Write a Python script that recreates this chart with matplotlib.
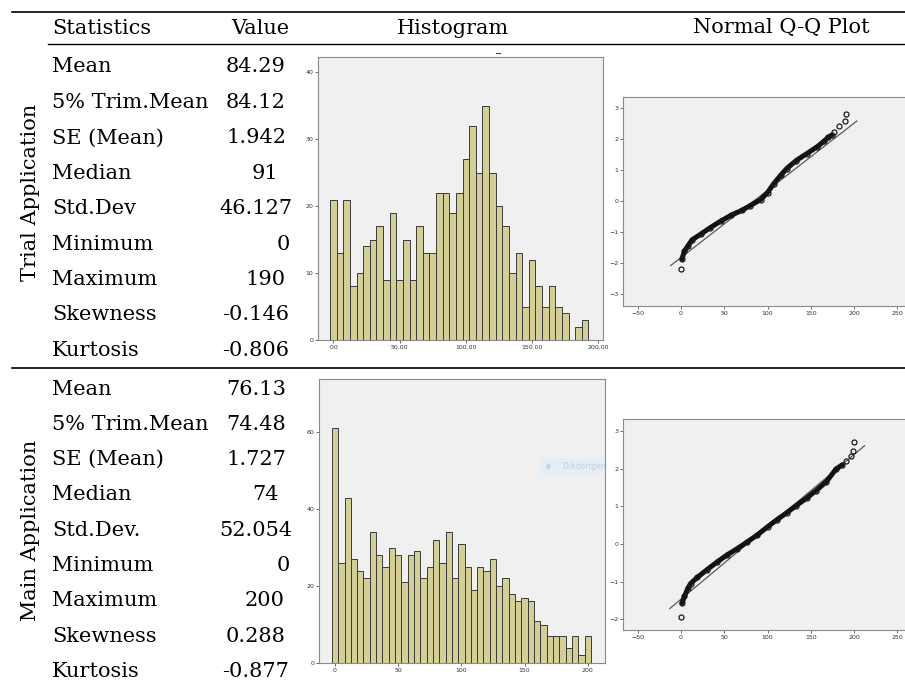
import matplotlib
matplotlib.use("Agg")
import matplotlib.pyplot as plt
from matplotlib.lines import Line2D
from matplotlib.patches import Rectangle
import numpy as np

W, H = 905, 686

stat_names = ["Mean", "5% Trim.Mean", "SE (Mean)", "Median", "Std.Dev",
	"Minimum", "Maximum", "Skewness", "Kurtosis"]
main_names = stat_names[:4] + ["Std.Dev."] + stat_names[5:]
trial_values = ["84.29", "84.12", "1.942", "91", "46.127", "0", "190", "-0.146", "-0.806"]
main_values = ["76.13", "74.48", "1.727", "74", "52.054", "0", "200", "0.288", "-0.877"]
trial_mean, trial_sd = 84.29, 46.127
main_mean, main_sd = 76.13, 52.054

# histogram counts, bins of width 5 centred on 0, 5, 10, ...
bin_width = 5
trial_counts = [21, 13, 21, 8, 10, 14, 15, 17, 9, 19, 9, 15, 9, 17, 13, 13, 22, 22, 19, 22,
	27, 32, 25, 35, 25, 20, 17, 10, 13, 5, 12, 8, 5, 8, 5, 4, 0, 2, 3]
main_counts = [61, 26, 43, 27, 24, 22, 34, 28, 25, 30, 28, 21, 28, 29, 22, 25, 32, 26, 34, 22,
	31, 25, 19, 25, 24, 27, 20, 22, 18, 16, 17, 16, 11, 10, 7, 7, 7, 4, 7, 2, 7]
trial_bins = np.arange(len(trial_counts)) * bin_width
main_bins = np.arange(len(main_counts)) * bin_width

qq_trial_x = [0, 1, 4, 8, 13, 23, 34, 46, 58, 70, 80, 92, 100, 107, 115, 122, 133, 145, 157,
	165, 170, 174, 177, 182, 189, 190]
qq_trial_y = [-2.20, -1.88, -1.62, -1.45, -1.25, -1.07, -0.86, -0.65, -0.46, -0.31, -0.15, 0.04,
	0.27, 0.55, 0.82, 1.04, 1.30, 1.52, 1.74, 1.92, 2.05, 2.12, 2.22, 2.42, 2.56, 2.80]
qq_main_x = [0, 1, 4, 8, 11, 19, 30, 42, 53, 65, 76, 88, 100, 111, 122, 133, 145, 156, 168,
	179, 186, 191, 196, 199, 200]
qq_main_y = [-1.94, -1.57, -1.39, -1.17, -1.05, -0.88, -0.68, -0.47, -0.29, -0.12, 0.05, 0.24,
	0.46, 0.65, 0.83, 1.02, 1.22, 1.42, 1.66, 1.99, 2.10, 2.20, 2.33, 2.46, 2.72]
qq_trial_line_x = [-12, 203]
qq_main_line_x = [-13, 212]

fig = plt.figure(figsize=(W / 100, H / 100), dpi=100)
serif = "DejaVu Serif"


def fx(x):
	return x / W


def fy(y):
	return 1 - y / H


def hline(y, x0, x1, lw):
	fig.add_artist(Line2D([fx(x0), fx(x1)], [fy(y), fy(y)], color="black", lw=lw))


def px_axes(l, t, r, b):
	return fig.add_axes([fx(l), fy(b), fx(r - l), (b - t) / H])


def spss_style(ax):
	ax.set_facecolor("#f0f0f0")
	for s in ax.spines.values():
		s.set_color("#8a8a8a")
		s.set_linewidth(0.8)
	ax.tick_params(direction="out", length=2.5, width=0.6, color="#555555",
		labelsize=4.5, labelcolor="#333333", pad=1)


# table rules and text
hline(12, 12, W, 1.2)
hline(44, 48, W, 1.0)
hline(368, 12, W, 1.2)

fig.text(fx(52), fy(28), "Statistics", family=serif, fontsize=15, va="center", ha="left")
fig.text(fx(260), fy(28), "Value", family=serif, fontsize=15, va="center", ha="center")
fig.text(fx(453), fy(28), "Histogram", family=serif, fontsize=15, va="center", ha="center")
fig.text(fx(781), fy(28), "Normal Q-Q Plot", family=serif, fontsize=15, va="center", ha="center")


def value_text(y, v):
	if v == "0":
		fig.text(fx(290), fy(y), v, family=serif, fontsize=15, va="center", ha="right")
	elif "." in v:
		fig.text(fx(256), fy(y), v, family=serif, fontsize=15, va="center", ha="center")
	else:
		fig.text(fx(265), fy(y), v, family=serif, fontsize=15, va="center", ha="center")


for i, (n, v) in enumerate(zip(stat_names, trial_values)):
	y = 67 + 35.4 * i
	fig.text(fx(52), fy(y), n, family=serif, fontsize=15, va="center", ha="left")
	value_text(y, v)

for i, (n, v) in enumerate(zip(main_names, main_values)):
	y = 389 + 35.3 * i
	fig.text(fx(52), fy(y), n, family=serif, fontsize=15, va="center", ha="left")
	value_text(y, v)

fig.text(fx(30), fy(192), "Trial Application", family=serif, fontsize=15,
	rotation=90, va="center", ha="center")
fig.text(fx(30), fy(530), "Main Application", family=serif, fontsize=15,
	rotation=90, va="center", ha="center")

# histograms
bar_face = "#d4cf97"
bar_edge = "#3a3a3a"

ax = px_axes(318, 57, 603, 340)
spss_style(ax)
ax.bar(trial_bins, trial_counts, width=bin_width, color=bar_face, edgecolor=bar_edge, linewidth=0.7)
ax.set_xlim(-11.6, 203.5)
ax.set_ylim(0, 42.3)
ax.set_xticks([0, 50, 100, 150, 200])
ax.set_xticklabels([".00", "50.00", "100.00", "150.00", "200.00"])
ax.set_yticks([0, 10, 20, 30, 40])
fig.add_artist(Line2D([fx(496), fx(500)], [fy(53), fy(53)], color="#444444", lw=0.8))

ax = px_axes(319, 379, 605, 663)
spss_style(ax)
ax.bar(main_bins, main_counts, width=bin_width, color=bar_face, edgecolor=bar_edge, linewidth=0.7)
ax.set_xlim(-12.7, 213.7)
ax.set_ylim(0, 73.8)
ax.set_xticks([0, 50, 100, 150, 200])
ax.set_yticks([0, 20, 40, 60])
# faint tooltip left over in the screenshot
ax.add_patch(Rectangle((0.773, 0.665), 0.25, 0.057, transform=ax.transAxes,
	facecolor="#e4eef9", edgecolor="none", clip_on=True, zorder=5))
ax.plot([0.80], [0.693], "o", transform=ax.transAxes, color="#c5d3e4", ms=2.5, zorder=6)
ax.text(0.853, 0.693, "Dikdörtgen S", transform=ax.transAxes, fontsize=5.5,
	color="#c3cedb", va="center", ha="left", clip_on=True, zorder=6)


def qq_plot(rect, xs, ys, line_x, mean, sd, ylim, yticks, join):
	ax = px_axes(*rect)
	spss_style(ax)
	ax.spines["right"].set_visible(False)
	lx = np.array(line_x, dtype=float)
	ax.plot(lx, (lx - mean) / sd, color="#5a5a5a", lw=0.9, zorder=2)
	ax.plot(xs[join[0]:join[1]], ys[join[0]:join[1]], color="#111111", lw=3.6,
		solid_capstyle="round", solid_joinstyle="round", zorder=3)
	ax.plot(xs, ys, "o", mfc="none", mec="#1a1a1a", ms=3.6, mew=0.9, zorder=4)
	ax.set_xlim(-67, 258.7)
	ax.set_ylim(*ylim)
	ax.set_xticks([-50, 0, 50, 100, 150, 200, 250])
	ax.set_yticks(yticks)


qq_plot((623, 97, 905, 306), qq_trial_x, qq_trial_y, qq_trial_line_x, trial_mean, trial_sd,
	(-3.39, 3.35), [-3, -2, -1, 0, 1, 2, 3], (1, 22))
qq_plot((623, 419, 905, 630), qq_main_x, qq_main_y, qq_main_line_x, main_mean, main_sd,
	(-2.28, 3.32), [-2, -1, 0, 1, 2, 3], (1, 21))

fig.savefig("out.png", dpi=100)
